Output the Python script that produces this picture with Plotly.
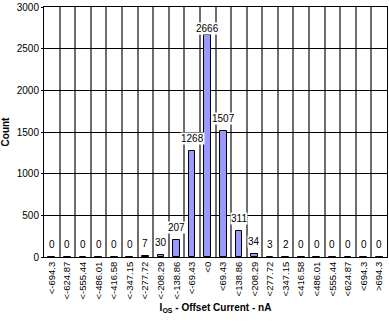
import plotly.graph_objects as go

categories = ["<-694.3", "<-624.87", "<-555.44", "<-486.01", "<-416.58", "<-347.15",
              "<-277.72", "<-208.29", "<-138.86", "<-69.43", "<0", "<69.43",
              "<138.86", "<208.29", "<277.72", "<347.15", "<416.58", "<486.01",
              "<555.44", "<624.87", "<694.3", ">694.3"]
counts = [0, 0, 0, 0, 0, 0, 7, 30, 207, 1268, 2666, 1507, 311, 34, 3, 2, 0, 0, 0, 0, 0, 0]
y_ticks = [0, 500, 1000, 1500, 2000, 2500, 3000]

FONT = "Arial, Liberation Sans, Helvetica, sans-serif"

fig = go.Figure()
fig.add_trace(go.Bar(
    x=categories, y=counts, width=0.43,
    marker=dict(color="#9999ff", line=dict(color="black", width=1)),
    hoverinfo="x+y",
))

ymax = 3000
for c, v in zip(categories, counts):
    shift = 6 if v < ymax * 0.85 else 0
    fig.add_annotation(x=c, y=v, text=str(v), showarrow=False, yanchor="bottom",
                       yshift=shift, bgcolor="white", borderpad=0,
                       font=dict(family=FONT, size=10, color="black"))

fig.update_layout(
    width=389, height=322,
    margin=dict(l=44, r=1, t=4, b=65),
    paper_bgcolor="white", plot_bgcolor="white",
    showlegend=False,
    font=dict(family=FONT, size=10, color="black"),
    bargap=0,
)
fig.update_xaxes(
    type="category", tickson="boundaries", showgrid=True,
    gridcolor="#6e6e6e", gridwidth=1.5,
    tickangle=-90, tickfont=dict(size=9.5),
    showline=True, linecolor="black", linewidth=1, mirror=True,
    ticks="",
    title=dict(text="<b>I<sub>OS</sub> - Offset Current - nA</b>", font=dict(size=10), standoff=5),
)
fig.update_yaxes(
    range=[0, ymax], tickvals=y_ticks, showgrid=True,
    gridcolor="black", gridwidth=1,
    showline=True, linecolor="black", linewidth=1, mirror=True,
    ticks="outside", ticklen=2, tickcolor="black",
    tickfont=dict(size=10), zeroline=False, ticklabeloverflow="allow",
    title=dict(text="<b>Count</b>", font=dict(size=10), standoff=6),
)

fig.write_html("out.html")
